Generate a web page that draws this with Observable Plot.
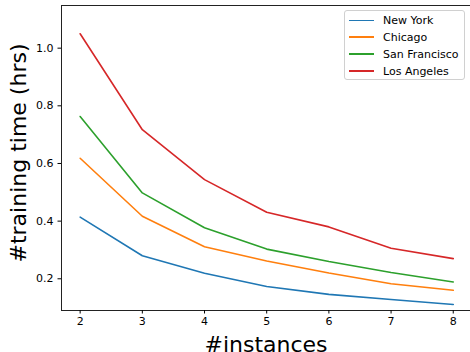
<!DOCTYPE html>
<html>
<head>
<meta charset="utf-8">
<script src="https://cdn.jsdelivr.net/npm/d3@7"></script>
<script src="https://cdn.jsdelivr.net/npm/@observablehq/plot@0.6"></script>
<style>
  html, body { margin: 0; padding: 0; background: #fff; overflow: hidden; }
  #wrap { position: relative; width: 470px; height: 352px; font-family: "DejaVu Sans", sans-serif; }
  #legend { position: absolute; left: 344px; top: 10px; width: 121px; height: 70px;
    border: 1px solid #d0d0d0; border-radius: 3px; background: rgba(255,255,255,0.8); box-sizing: border-box; }
  .row { position: absolute; left: 0; height: 16px; display: flex; align-items: center; font-size: 11px; color: #000; white-space: nowrap; }
  .sw { width: 25px; height: 1.5px; margin-left: 4px; margin-right: 9px; }
</style>
</head>
<body>
<div id="wrap"><div id="chart"></div><div id="legend"></div></div>
<script>
const instances = [2, 3, 4, 5, 6, 7, 8];
const cities = ["New York", "Chicago", "San Francisco", "Los Angeles"];
const colors = ["#1f77b4", "#ff7f0e", "#2ca02c", "#d62728"];
const newYork      = [0.414, 0.280, 0.219, 0.173, 0.146, 0.128, 0.111];
const chicago      = [0.618, 0.417, 0.311, 0.262, 0.220, 0.183, 0.160];
const sanFrancisco = [0.763, 0.498, 0.377, 0.303, 0.260, 0.222, 0.189];
const losAngeles   = [1.050, 0.717, 0.544, 0.431, 0.380, 0.306, 0.270];
const yTicks = [0.2, 0.4, 0.6, 0.8, 1.0];
const xLabel = "#instances";
const yLabel = "#training time (hrs)";

const seriesValues = [newYork, chicago, sanFrancisco, losAngeles];
const data = [];
cities.forEach((c, i) => instances.forEach((x, j) => data.push({city: c, x, y: seriesValues[i][j]})));

const chart = Plot.plot({
  width: 470,
  height: 352,
  marginLeft: 61,
  marginRight: 0,
  marginTop: 5,
  marginBottom: 42,
  style: {fontFamily: "DejaVu Sans, sans-serif", background: "#fff", color: "#000", overflow: "hidden"},
  x: {domain: [1.7, 8.3], range: [61, 471.4]},
  y: {domain: [0.09, 1.148], range: [310, 5]},
  color: {domain: cities, range: colors},
  marks: [
    Plot.line(data, {x: "x", y: "y", z: "city", stroke: "city", strokeWidth: 1.6}),
    Plot.ruleX([1.7], {stroke: "#222", strokeWidth: 1}),
    Plot.ruleX([8.3], {stroke: "#222", strokeWidth: 1}),
    Plot.ruleY([0.09], {stroke: "#222", strokeWidth: 1}),
    Plot.ruleY([1.148], {stroke: "#222", strokeWidth: 1}),
    Plot.axisX({ticks: instances, tickFormat: d3.format("d"), tickSize: 3.5, tickPadding: 3.5, fontSize: 11, label: null, stroke: "#000"}),
    Plot.axisY({ticks: yTicks, tickFormat: d3.format(".1f"), tickSize: 3.5, tickPadding: 4.5, fontSize: 11, label: null, stroke: "#000"}),
    Plot.text([xLabel], {frameAnchor: "bottom", textAnchor: "middle", lineAnchor: "middle", dy: 34, fontSize: 22, fill: "#000"}),
    Plot.text([yLabel], {frameAnchor: "left", textAnchor: "middle", rotate: -90, lineAnchor: "middle", dx: -43, dy: -5, fontSize: 22, fill: "#000"})
  ]
});
document.getElementById("chart").appendChild(chart);

const legend = document.getElementById("legend");
const rowTops = [1.5, 18, 35, 52];
cities.forEach((c, i) => {
  const row = document.createElement("div");
  row.className = "row";
  row.style.top = rowTops[i] + "px";
  const sw = document.createElement("div");
  sw.className = "sw";
  sw.style.background = colors[i];
  const t = document.createElement("span");
  t.textContent = c;
  row.appendChild(sw);
  row.appendChild(t);
  legend.appendChild(row);
});
</script>
</body>
</html>
